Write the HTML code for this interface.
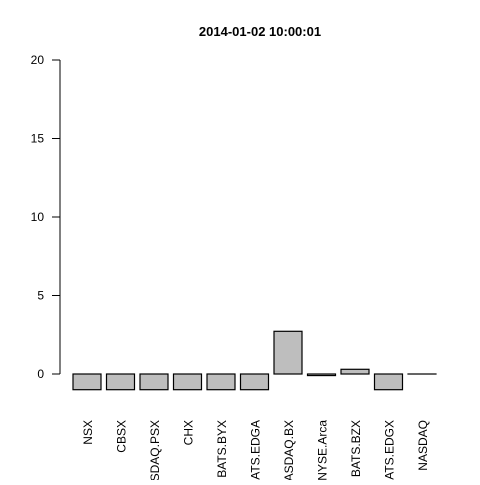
<!DOCTYPE html>
<html><head><meta charset="utf-8"><style>body{margin:0;background:#fff}svg text{font-family:"Liberation Sans",Arial,sans-serif}</style></head>
<body>
<svg id="chart" width="480" height="480" xmlns="http://www.w3.org/2000/svg">
<rect width="480" height="480" fill="#fff"/>
<text x="260" y="36" text-anchor="middle" font-size="13" font-weight="bold">2014-01-02 10:00:01</text>
<g id="yaxis"></g>
<g id="bars"></g>
<g id="xlabels"></g>
</svg>
<script>
const categories=["NSX","CBSX","NASDAQ.PSX","CHX","BATS.BYX","BATS.EDGA","NASDAQ.BX","NYSE.Arca","BATS.BZX","BATS.EDGX","NASDAQ"];
const values=[-1,-1,-1,-1,-1,-1,2.72,-0.1,0.3,-1,0];
const yTicks=[0,5,10,15,20];
const NS="http://www.w3.org/2000/svg";
function y(v){return 374-v*15.7;}
function xLeft(i){return 73+i*33.5;}
const bw=28;
const ya=document.getElementById('yaxis');
function mk(t,a,p){const e=document.createElementNS(NS,t);for(const k in a)e.setAttribute(k,a[k]);p.appendChild(e);return e;}
mk('line',{x1:60,x2:60,y1:y(20),y2:y(0),stroke:'#000'},ya);
yTicks.forEach(t=>{
  mk('line',{x1:52,x2:60,y1:y(t),y2:y(t),stroke:'#000'},ya);
  const tx=mk('text',{x:44,y:y(t)+4,'text-anchor':'end','font-size':12},ya);
  
  
  tx.textContent=t;
});
const bg=document.getElementById('bars'),xl=document.getElementById('xlabels');
values.forEach((v,i)=>{
  const top=Math.min(y(v),y(0)),h=Math.abs(y(v)-y(0));
  const r=mk('rect',{x:xLeft(i),y:top,width:bw,height:Math.max(h,0.01),fill:'#bebebe',stroke:'#000','stroke-width':1.2},bg);
  
  
  const cx=xLeft(i)+bw/2+5;
  const t=mk('text',{x:cx,y:420,'text-anchor':'end','font-size':12,transform:`rotate(-90 ${cx} 420)`},xl);
  
  
  t.textContent=categories[i];
});
</script>
</body></html>
